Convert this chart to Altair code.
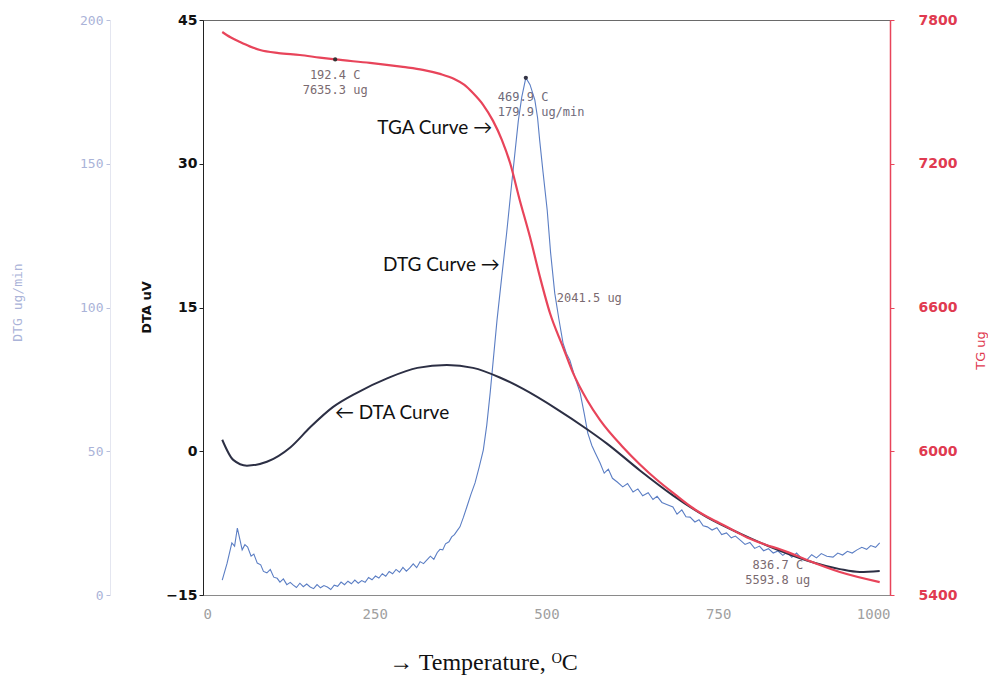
import altair as alt
import pandas as pd

# ---- TG (thermogravimetric, ug) ----
temp_tg = [28, 40, 54, 68, 83, 110, 141, 170, 192.4, 243, 291, 320, 345, 365, 380, 393, 408,
           422, 435, 447, 461, 476, 490.5, 505, 524, 538.6, 559, 578, 611, 636, 661, 687, 713,
           738, 763, 792, 821, 836.7, 850, 879, 927, 985]
tg = [7750, 7728, 7708, 7690, 7675, 7662, 7654, 7643, 7635.3, 7621, 7604, 7592, 7575, 7555, 7530,
      7495, 7445, 7380, 7300, 7203, 7049, 6894, 6727, 6577, 6435, 6327, 6214, 6130, 6018, 5945,
      5880, 5820, 5763, 5720, 5684, 5640, 5608, 5593.8, 5580, 5546, 5496, 5454]

# ---- DTA (uV) ----
temp_dta = [28, 44, 64, 93, 127, 156, 189, 224, 268, 312, 355, 393, 432, 466, 515, 559, 588,
            636, 684, 734, 782, 830, 879, 927, 956, 985]
dta = [1.2, -0.9, -1.5, -1.1, 0.4, 2.5, 4.6, 6.1, 7.6, 8.7, 9.0, 8.7, 7.7, 6.5, 4.4, 2.3, 0.8,
       -2.0, -4.6, -6.9, -8.6, -10.1, -11.4, -12.3, -12.6, -12.5]

# ---- DTG (ug/min) ----
temp_dtg = [28, 35, 42, 46, 50, 54, 57, 61, 65, 70, 74, 79, 84, 88, 93, 98, 103, 108, 112, 117,
            122, 127, 131, 136, 141, 146, 151, 156, 161, 166, 171, 176, 181, 186, 191, 196, 201,
            206, 211, 216, 221, 226, 231, 236, 241, 246, 251, 256, 261, 266, 271, 276, 281, 286,
            291, 296, 301, 306, 311, 316, 321, 326, 331, 336, 341, 345, 349, 353, 358, 362, 366,
            370, 374, 379, 384, 390, 396, 402, 408, 413, 418, 423, 428, 435, 442, 448, 454, 459,
            464, 469.9, 476, 483, 487, 490, 495, 501, 506, 512, 518, 524, 529, 534, 541, 549, 555,
            560, 566, 571, 578, 584, 590, 596, 603, 611, 618, 626, 633, 640, 648, 655, 661, 668,
            675, 684, 690, 697, 703, 709, 716, 722, 728, 734, 741, 748, 755, 762, 769, 775, 782,
            789, 796, 803, 810, 816, 823, 830, 837, 844, 850, 857, 864, 871, 879, 886, 893, 900,
            908, 917, 924, 931, 938, 945, 952, 959, 966, 972, 979, 985]
dtg = [5.2, 11, 18.1, 17, 23.3, 19, 15.7, 17.5, 16.7, 13.5, 14.2, 11.1, 10.5, 8.2, 7.7, 8.9, 6.2,
       5.8, 4.5, 5.6, 3.6, 4.4, 3.5, 2.6, 4.1, 2.9, 3.8, 2.8, 2.2, 3.6, 2.5, 3.3, 2.8, 1.9, 3.4,
       3.0, 4.5, 3.6, 4.8, 3.9, 5.2, 4.1, 5.0, 4.4, 6.1, 5.3, 6.6, 5.9, 7.4, 6.5, 8.2, 7.4, 8.9,
       7.9, 9.6, 8.3, 9.4, 10.8, 9.5, 11.6, 10.9, 12.2, 13.5, 12.4, 14.8, 15.9, 15.7, 17.8, 18.5,
       20.2, 21.0, 22.4, 23.7, 27, 30.6, 35, 39, 44.5, 50.4, 59, 70.3, 83, 95.7, 111, 125.9, 140,
       153.7, 165, 173.2, 179.9, 177.5, 172.2, 166, 158.3, 147, 133.9, 119, 105, 96, 87.7, 84,
       81.7, 76, 70.3, 63, 56.4, 52, 49.4, 45.9, 42.4, 43.8, 40.6, 39.3, 37.6, 38.8, 35.8, 36.9,
       34.5, 35.6, 33.2, 34.3, 32.2, 31.5, 30.6, 28.1, 29.6, 27.2, 27.1, 25.4, 26.2, 24.1, 23.7,
       22.6, 23.4, 21.0, 21.6, 19.9, 20.5, 19.1, 17.6, 18.3, 16.2, 17.0, 15.4, 16.1, 14.6, 15.3,
       13.8, 14.9, 13.1, 14.6, 12.8, 12.2, 14.0, 12.9, 14.4, 13.5, 13.2, 14.6, 13.9, 15.2, 14.6,
       15.7, 16.6, 15.9, 17.2, 16.6, 18.1]

# ---- annotations ----
tg_marks_T = [192.4]
tg_marks_V = [7635.3]
tg_notes_T = [192.4, 836.7]
tg_notes_V = [7635.3, 5593.8]
tg_notes_txt = ["192.4 C\n7635.3 ug", "836.7 C\n5593.8 ug"]
loss_T = [515]
loss_V = [6640]
loss_txt = ["2041.5 ug"]
peak_T = [469.9]
peak_V = [179.9]
peak_txt = ["469.9 C\n179.9 ug/min"]
curve_lbl_T = [421, 432]
curve_lbl_V = [7349, 6777]
curve_lbl_txt = ["TGA Curve \u2192", "DTG Curve \u2192"]
dta_lbl_T = [192]
dta_lbl_V = [4.0]
dta_lbl_txt = ["\u2190 DTA Curve"]

RED = "#e8445a"
BLUE = "#5b7ec4"
DARK = "#2c2f44"
NOTE = "#7a6a70"

df_tg = pd.DataFrame({"T": temp_tg, "TG": tg})
df_dta = pd.DataFrame({"T": temp_dta, "DTA": dta})
df_dtg = pd.DataFrame({"T": temp_dtg, "DTG": dtg})
df_tg_pt = pd.DataFrame({"T": tg_marks_T, "TG": tg_marks_V})
df_tg_note = pd.DataFrame({"T": tg_notes_T, "TG": tg_notes_V, "txt": tg_notes_txt})
df_loss = pd.DataFrame({"T": loss_T, "TG": loss_V, "txt": loss_txt})
df_curve = pd.DataFrame({"T": curve_lbl_T, "TG": curve_lbl_V, "txt": curve_lbl_txt})
df_peak = pd.DataFrame({"T": peak_T, "DTG": peak_V, "txt": peak_txt})
df_dta_lbl = pd.DataFrame({"T": dta_lbl_T, "DTA": dta_lbl_V, "txt": dta_lbl_txt})

X = alt.X(
    "T:Q",
    scale=alt.Scale(domain=[0, 1000], nice=False),
    axis=alt.Axis(
        values=[0, 250, 500, 750, 1000], format="d", grid=False, ticks=False,
        domainColor="#8a8a8a", labelFont="DejaVu Sans Mono", labelFontSize=14,
        labelColor="#a0a0a0", labelPadding=12,
        title="\u2192 Temperature, \u1d3cC", titleFont="Liberation Serif", titleFontSize=24,
        titleFontWeight="normal", titleColor="#111111", titleX=280, titleY=67,
        titleBaseline="middle",
    ),
)

Y_DTG = alt.Y(
    "DTG:Q",
    scale=alt.Scale(domain=[0, 200], nice=False),
    axis=alt.Axis(
        orient="left", offset=93, values=[0, 50, 100, 150, 200], format="d", grid=False,
        domainColor="#e4e6f0", tickColor="#b8bfdc", tickSize=4,
        labelFont="DejaVu Sans Mono", labelFontSize=13, labelColor="#aab3d8", labelPadding=3,
        title="DTG ug/min", titleFont="DejaVu Sans Mono", titleFontSize=13,
        titleFontWeight="normal", titleColor="#aab3d8", titleX=-93, titleY=282,
        titleBaseline="middle", titleAngle=270,
    ),
)
Y_DTA = alt.Y(
    "DTA:Q",
    scale=alt.Scale(domain=[-15, 45], nice=False),
    axis=alt.Axis(
        orient="left", values=[-15, 0, 15, 30, 45], format="d", grid=False,
        domainColor="#222222", tickColor="#222222", tickSize=4, labelFont="DejaVu Sans",
        labelFontWeight="bold", labelFontSize=14, labelColor="#111111", labelPadding=2,
        title="DTA uV", titleFont="DejaVu Sans", titleFontSize=13, titleFontWeight="bold",
        titleColor="#111111", titleX=-57, titleY=287, titleBaseline="middle", titleAngle=270,
    ),
)
Y_TG = alt.Y(
    "TG:Q",
    scale=alt.Scale(domain=[5400, 7800], nice=False),
    axis=alt.Axis(
        orient="right", values=[5400, 6000, 6600, 7200, 7800], format="d", grid=False,
        domainColor=RED, domainWidth=1.5, tickColor=RED, tickSize=4, labelFont="DejaVu Sans",
        labelFontWeight="bold", labelFontSize=14, labelColor="#e03a50", labelPadding=24,
        title="TG ug", titleFont="DejaVu Sans", titleFontSize=13, titleFontWeight="normal",
        titleColor="#e03a50", titleX=90, titleY=330, titleBaseline="middle", titleAngle=270,
    ),
)

dtg_line = alt.Chart(df_dtg).mark_line(color=BLUE, strokeWidth=1.1).encode(x=X, y=Y_DTG)
dtg_pt = alt.Chart(df_peak).mark_point(filled=True, color="#333344", size=18, opacity=1).encode(x=X, y=Y_DTG)
dtg_txt = alt.Chart(df_peak).mark_text(
    align="left", baseline="top", dx=-28, dy=14, font="DejaVu Sans Mono", fontSize=12,
    lineHeight=15, color="#6e6a7a", lineBreak="\n",
).encode(x=X, y=Y_DTG, text="txt:N")
dtg_layer = alt.layer(dtg_line, dtg_pt, dtg_txt)

dta_line = alt.Chart(df_dta).mark_line(color=DARK, strokeWidth=2, interpolate="monotone").encode(x=X, y=Y_DTA)
dta_txt = alt.Chart(df_dta_lbl).mark_text(
    align="left", baseline="middle", font="Lato", fontSize=19, color="#111111",
).encode(x=X, y=Y_DTA, text="txt:N")
dta_layer = alt.layer(dta_line, dta_txt)

tg_line = alt.Chart(df_tg).mark_line(color=RED, strokeWidth=2.2, interpolate="monotone").encode(x=X, y=Y_TG)
tg_pt = alt.Chart(df_tg_pt).mark_point(filled=True, color="#333333", size=18, opacity=1).encode(x=X, y=Y_TG)
tg_note = alt.Chart(df_tg_note).mark_text(
    align="center", baseline="top", dy=11, font="DejaVu Sans Mono", fontSize=12,
    lineHeight=15, color=NOTE, lineBreak="\n",
).encode(x=X, y=Y_TG, text="txt:N")
tg_loss = alt.Chart(df_loss).mark_text(
    align="left", baseline="middle", font="DejaVu Sans Mono", fontSize=12, color=NOTE,
).encode(x=X, y=Y_TG, text="txt:N")
tg_curve = alt.Chart(df_curve).mark_text(
    align="right", baseline="middle", font="Lato", fontSize=19, color="#111111",
).encode(x=X, y=Y_TG, text="txt:N")
tg_layer = alt.layer(tg_line, tg_pt, tg_note, tg_loss, tg_curve)

chart = (
    alt.layer(dtg_layer, dta_layer, tg_layer)
    .resolve_scale(y="independent")
    .properties(
        width=687, height=575,
        autosize=alt.AutoSizeParams(type="none"),
        padding={"left": 195, "top": 12, "right": 98, "bottom": 81},
        background="white",
    )
    .configure_view(stroke="#6a6a6a", strokeWidth=1)
)

chart.save("out.html", embed_options={"renderer": "svg", "actions": False})
